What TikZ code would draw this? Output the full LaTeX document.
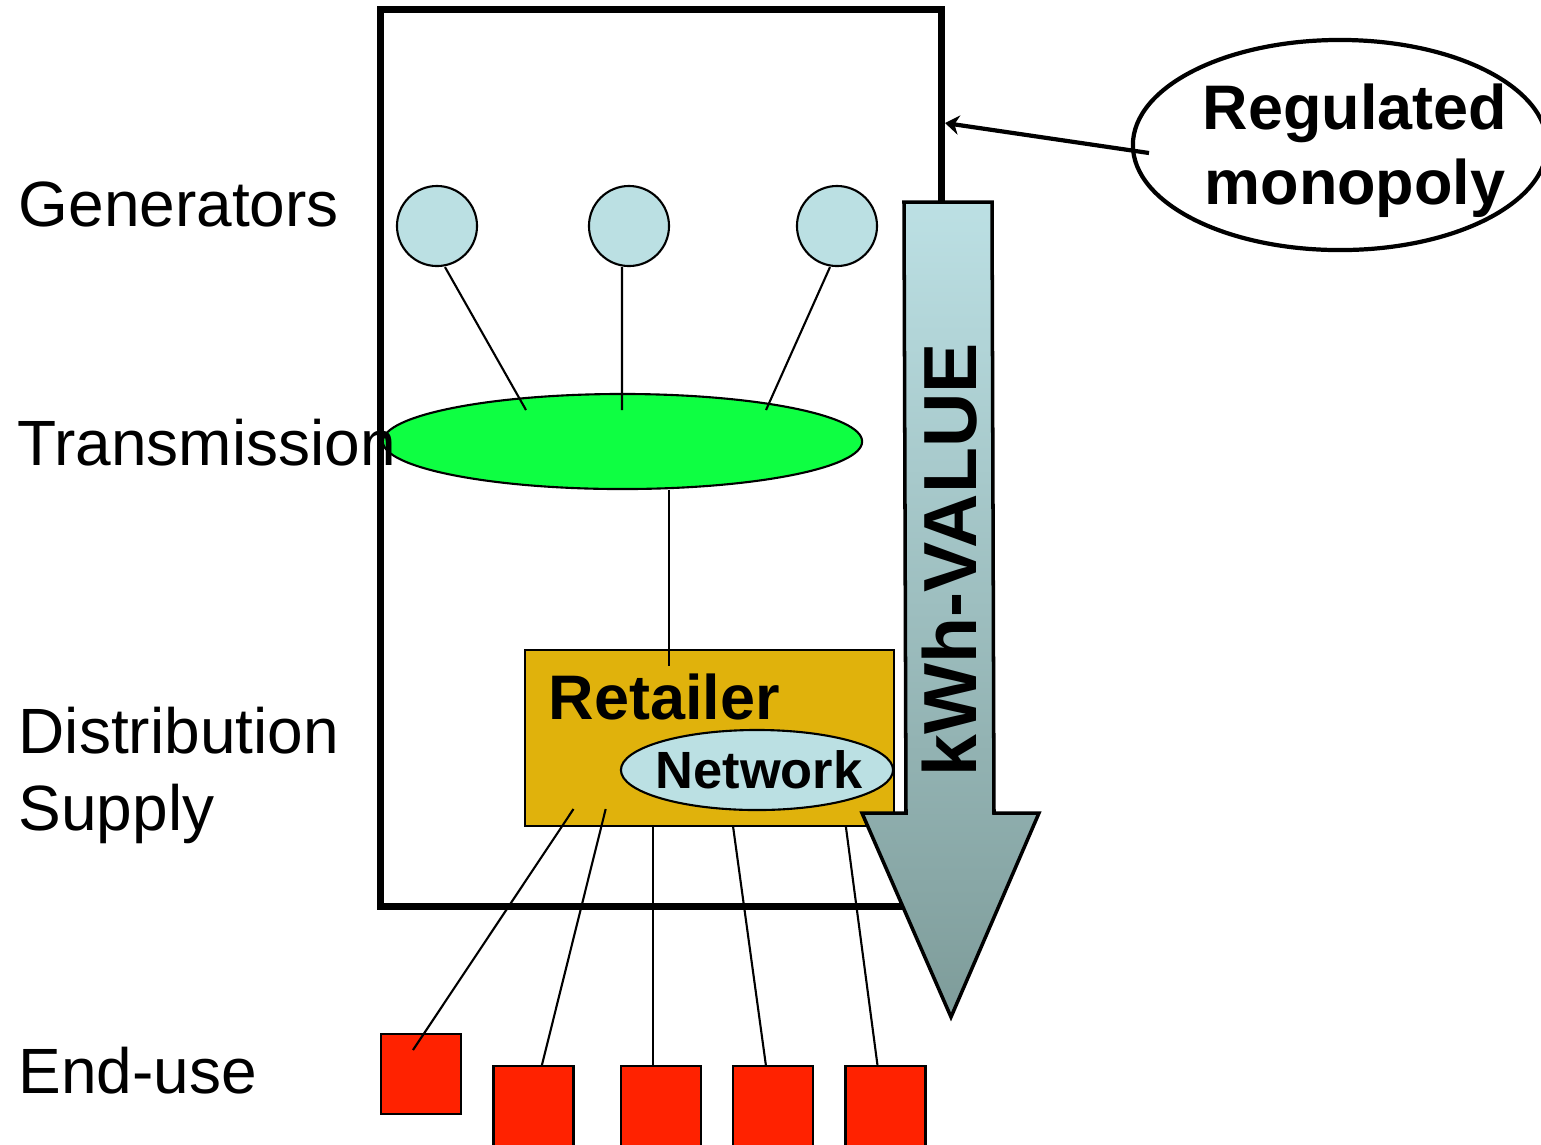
\documentclass[tikz,border=0pt]{standalone}
\usepackage{fontspec}
\setmainfont{Liberation Sans}
\usetikzlibrary{shapes.geometric,arrows.meta}
\definecolor{genblue}{HTML}{BBE0E3}
\definecolor{transgreen}{HTML}{0EFF42}
\definecolor{retgold}{HTML}{E0B20C}
\definecolor{enduse}{HTML}{FF2200}
\definecolor{arrowtop}{HTML}{BCE0E4}
\definecolor{arrowbot}{HTML}{7E9C9A}
\tikzset{
  frame/.style={draw,line width=2pt,minimum width=5.6cm,minimum height=8.96cm,inner sep=0pt},
  gen/.style={circle,draw,fill=genblue,minimum size=0.8cm,inner sep=0pt,line width=0.6pt},
  transell/.style={ellipse,draw,fill=transgreen,minimum width=4.79cm,minimum height=0.95cm,inner sep=0pt,line width=0.6pt},
  retbox/.style={draw,fill=retgold,minimum width=3.69cm,minimum height=1.76cm,inner sep=0pt,line width=0.6pt},
  netell/.style={ellipse,draw,fill=genblue,minimum width=2.72cm,minimum height=0.8cm,inner sep=0pt,line width=0.6pt},
  nettext/.style={inner sep=0pt,font=\fontsize{14.9pt}{17pt}\selectfont\bfseries},
  enduse/.style={draw,fill=enduse,minimum size=0.8cm,inner sep=0pt,line width=0.6pt},
  wire/.style={line width=0.6pt},
  lab/.style={inner sep=0pt,anchor=base west,font=\fontsize{18.2pt}{21.5pt}\selectfont},
  boldlab/.style={inner sep=0pt,font=\fontsize{17.9pt}{21.3pt}\selectfont\bfseries},
  bigarrow/.style={top color=arrowtop,bottom color=arrowbot,draw=black,line width=1pt},
  kwh/.style={inner sep=0pt,font=\fontsize{21.4pt}{24pt}\selectfont\bfseries},
  regell/.style={ellipse,draw,line width=1.2pt,minimum width=4.14cm,minimum height=2.1cm,inner sep=0pt},
  regarrow/.style={line width=1.2pt,-{Stealth[length=4pt,width=5.5pt]}}
}
\begin{document}
\begin{tikzpicture}[x=0.01cm,y=-0.01cm]
\useasboundingbox (0,0) rectangle (1541,1144);

\node[frame] (frame) at (661,458) {};

\node[gen] (g1) at (437,226) {};
\node[gen] (g2) at (629,226) {};
\node[gen] (g3) at (837,226) {};

\node[transell] (tr) at (622.5,441.5) {};
\coordinate (t1) at (526,410);
\coordinate (t2) at (622,410);
\coordinate (t3) at (766,410);
\draw[wire] ([xshift=0.08cm]g1.south) -- (t1);
\draw[wire] ([xshift=-0.07cm]g2.south) -- (t2);
\draw[wire] ([xshift=-0.07cm]g3.south) -- (t3);

\node[retbox] (ret) at (709.5,738) {};
\node[boldlab,anchor=base west] (rettxt) at (548,719) {Retailer};
\node[netell] (net) at (757,770) {};
\node[nettext] (nettxt) at (759,770) {Network};
\coordinate (r0) at (669,666);
\draw[wire] (tr.south -| r0) -- (r0);

\node[enduse] (u1) at (421,1074) {};
\node[enduse] (u2) at (533.5,1106) {};
\node[enduse] (u3) at (661,1106) {};
\node[enduse] (u4) at (773,1106) {};
\node[enduse] (u5) at (885.5,1106) {};

\coordinate (s1) at (573.5,809); \coordinate (e1) at (413,1050);
\coordinate (s2) at (605.7,809); \coordinate (e2) at (541.7,1066);
\coordinate (s3) at (653,826); \coordinate (e3) at (653,1066);
\coordinate (s4) at (733,826); \coordinate (e4) at (766,1066);
\coordinate (s5) at (845.8,826); \coordinate (e5) at (877.6,1066);
\draw[wire] (s1) -- (e1); \draw[wire] (s2) -- (e2); \draw[wire] (s3) -- (e3);
\draw[wire] (s4) -- (e4); \draw[wire] (s5) -- (e5);

\shade[bigarrow] (904,202) -- (992,202) -- (994,813) -- (1039,813) -- (951,1017) -- (862,813) -- (906,813) -- cycle;
\node[kwh,rotate=90] (kwh) at (950,560) {kWh-VALUE};

\node[regell] (reg) at (1340,145) {};
\node[boldlab,align=center] (regtxt) at (1355,151) {Regulated\\monopoly};
\coordinate (regtail) at (1149,153);
\coordinate (hit) at (945,123);
\draw[regarrow] (regtail) -- (hit);

\node[lab] (lgen) at (18,226) {Generators};
\node[lab] (ltrans) at (17,465) {Transmission};
\node[lab] (ldist) at (18,753) {Distribution};
\node[lab] (lsup) at (18,830) {Supply};
\node[lab] (lend) at (18,1093) {End-use};
\end{tikzpicture}
\end{document}
